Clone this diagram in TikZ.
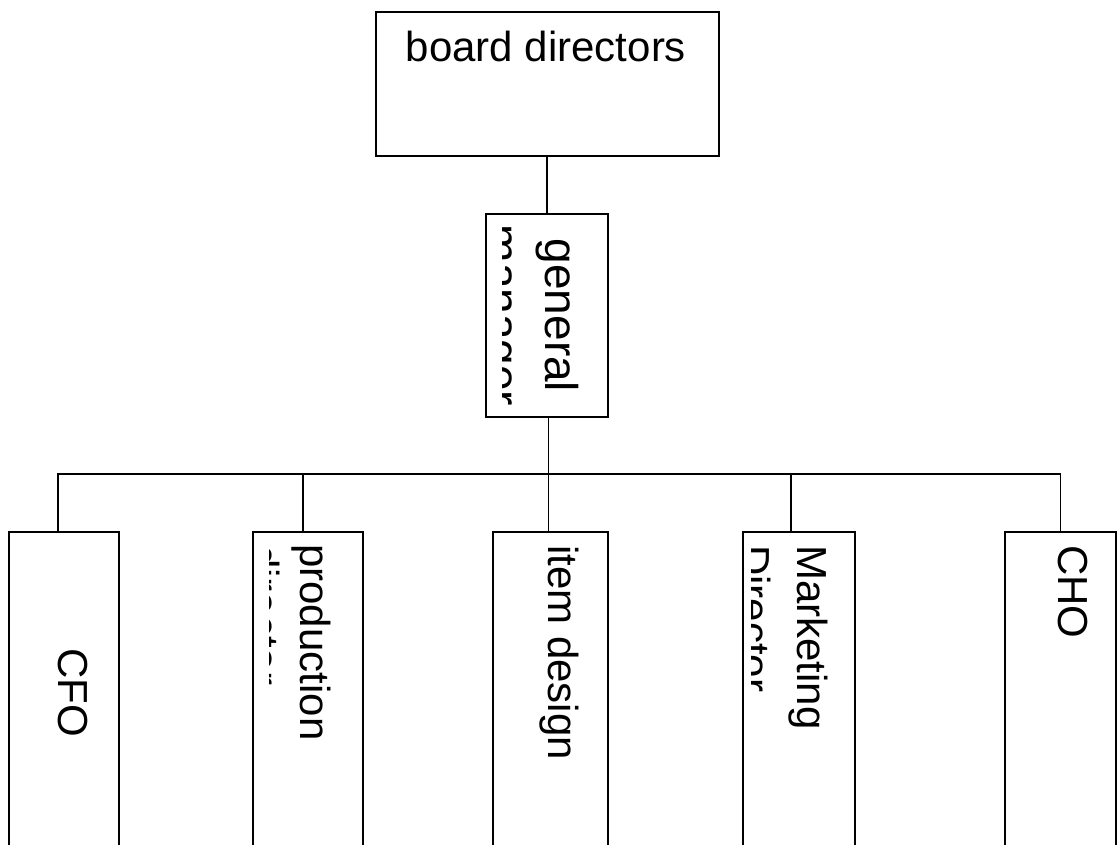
\documentclass[tikz,border=0pt]{standalone}
\usepackage{fontspec}
\setmainfont{Liberation Sans}
\usetikzlibrary{calc}
\tikzset{
  box/.style={draw, line width=0.9pt, rectangle, inner sep=0pt},
  lbl/.style={inner sep=0pt, font=\fontsize{31.5}{36}\selectfont},
  biglbl/.style={inner sep=0pt, font=\fontsize{34.5}{40}\selectfont, rotate=-90, anchor=base},
  vlbl/.style={lbl, rotate=-90, anchor=base west},
  link/.style={line width=0.9pt}
}
\begin{document}
\begin{tikzpicture}[x=0.75pt, y=-0.75pt]
  \useasboundingbox (0,0) rectangle (1117,845);
  \clip (0,0) rectangle (1117,845);
  % boxes
  \node[box, minimum width=257.25pt, minimum height=108pt] (board) at (547.5,84) {};
  \node[box, minimum width=91.5pt, minimum height=152.25pt] (gm) at (547,315.5) {};
  \node[box, minimum width=82.5pt, minimum height=240pt] (cfo) at (64,692) {};
  \node[box, minimum width=82.5pt, minimum height=240pt] (prod) at (308,692) {};
  \node[box, minimum width=86.25pt, minimum height=240pt] (item) at (550.5,692) {};
  \node[box, minimum width=84pt, minimum height=240pt] (mkt) at (799,692) {};
  \node[box, minimum width=83.25pt, minimum height=240pt] (cho) at (1060.5,692) {};
  % labels
  \node[lbl, anchor=base] (boardtxt) at (546,62) {board directors};
  \node[biglbl] (gmtxt) at (545,315.5) {general};
  \begin{scope}
    \clip (502,214) rectangle (608,417);
    \node[biglbl] (gmtxtb) at (487,315.5) {manager};
  \end{scope}
  \node[lbl, rotate=-90, anchor=base] (cfotxt) at (58,692.5) {CFO};
  \node[vlbl] (prodtxt) at (300,544) {production};
  \begin{scope}
    \clip (269,532) rectangle (363,845);
    \node[vlbl] (prodtxtb) at (249,545) {director};
  \end{scope}
  \node[vlbl] (itemtxt) at (548,545) {item design};
  \node[vlbl] (mkttxt) at (797,545) {Marketing};
  \begin{scope}
    \clip (751,532) rectangle (855,845);
    \node[vlbl] (mkttxtb) at (740,545) {Director};
  \end{scope}
  \node[vlbl] (chotxt) at (1058,545) {CHO};
  % connectors
  \coordinate (hub) at (548.5,474);
  \draw[link] (board.south) -- (gm.south |- board.south) -- (gm.north);
  \draw[link] ($(gm.south)+(1.5,0)$) -- (hub);
  \draw[link] ($(cfo.north)+(-6,0)$) |- (hub);
  \draw[link] ($(prod.north)+(-5,0)$) |- (hub);
  \draw[link] ($(item.north)+(-2,0)$) |- (hub);
  \draw[link] ($(mkt.north)+(-8,0)$) |- (hub);
  \draw[link] (cho.north) |- (hub);
\end{tikzpicture}
\end{document}
